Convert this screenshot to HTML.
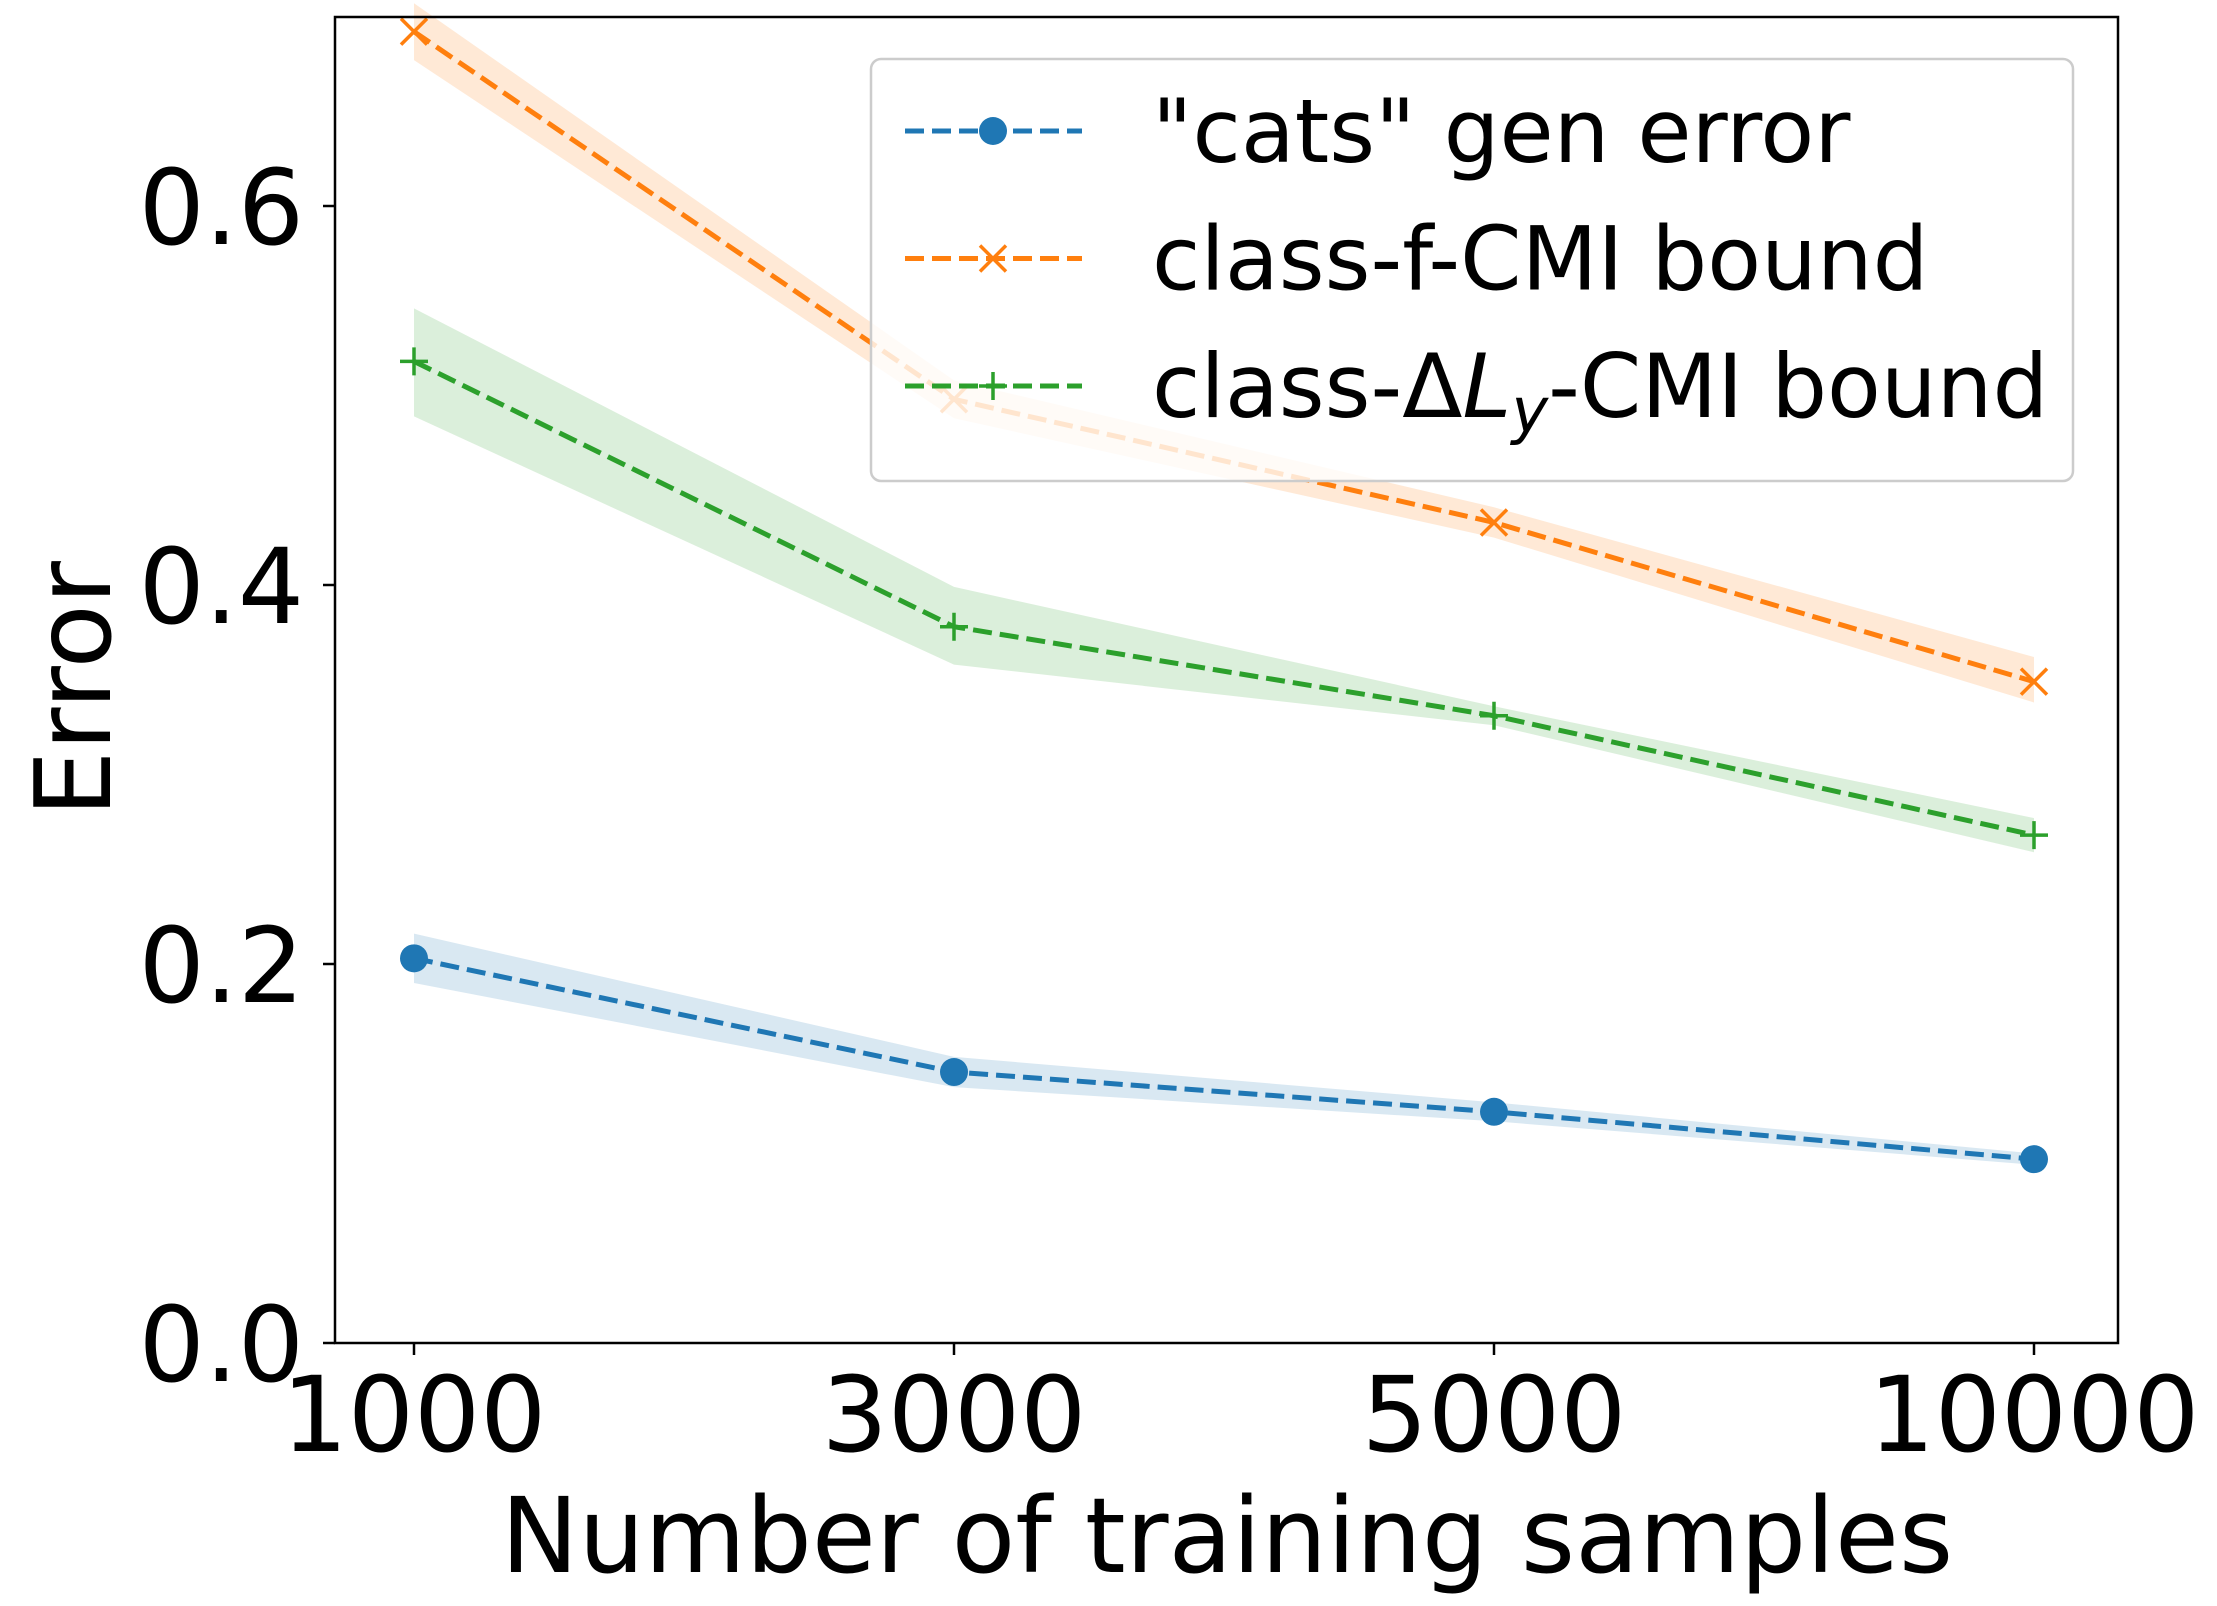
<!DOCTYPE html>
<html><head><meta charset="utf-8"><style>
html,body{margin:0;padding:0;background:#fff;}
svg text{font-family:"DejaVu Sans","Liberation Sans",sans-serif;}
</style></head><body>
<svg id="chart" width="2217" height="1601" viewBox="0 0 2217 1601" xmlns="http://www.w3.org/2000/svg">
<rect width="2217" height="1601" fill="#fff"/>
<g id="bands"></g><g id="lines"></g>
<rect x="335" y="17" width="1783" height="1326" fill="none" stroke="#000" stroke-width="2.5"/>
<g id="ticks"></g>
<text transform="translate(110,689) rotate(-90)" text-anchor="middle" font-size="105">Error</text>
<text x="1227" y="1572" text-anchor="middle" font-size="104">Number of training samples</text>
<g id="legend">
<rect x="871" y="59" width="1202" height="422" rx="10" fill="#fff" fill-opacity="0.8" stroke="#ccc" stroke-width="2.5"/>
</g>
</svg>
<script>
const categories=["1000","3000","5000","10000"];
const yTicks=[0.0,0.2,0.4,0.6];
const genErr=[0.203,0.143,0.122,0.097];
const genLo=[0.190,0.135,0.117,0.094];
const genHi=[0.216,0.151,0.127,0.100];
const fcmi=[0.692,0.498,0.433,0.349];
const fcmiLo=[0.677,0.488,0.425,0.338];
const fcmiHi=[0.707,0.508,0.441,0.362];
const dcmi=[0.518,0.378,0.331,0.268];
const dcmiLo=[0.489,0.358,0.326,0.259];
const dcmiHi=[0.546,0.399,0.336,0.277];
const legendLabels=['"cats" gen error','class-f-CMI bound','class-ΔL-CMI bound'];
const NS="http://www.w3.org/2000/svg";
const xPos=i=>414+i*540;
const yPos=v=>1343-v*1895;
function mk(t,a,p){const e=document.createElementNS(NS,t);for(const k in a)e.setAttribute(k,a[k]);p.appendChild(e);return e;}
const bands=document.getElementById('bands'),lines=document.getElementById('lines'),ticks=document.getElementById('ticks');
const series=[
 {v:genErr,lo:genLo,hi:genHi,c:'#1f77b4',m:'dot',n:'gen-error'},
 {v:fcmi,lo:fcmiLo,hi:fcmiHi,c:'#ff7f0e',m:'x',n:'f-cmi-bound'},
 {v:dcmi,lo:dcmiLo,hi:dcmiHi,c:'#2ca02c',m:'plus',n:'delta-cmi-bound'}];
function marker(m,x,y,c,p,name){
 let e;
 if(m==='dot'){e=mk('circle',{cx:x,cy:y,r:14,fill:c},p);}
 else if(m==='x'){e=mk('path',{d:`M${x-13} ${y-13}L${x+13} ${y+13}M${x-13} ${y+13}L${x+13} ${y-13}`,stroke:c,'stroke-width':3.5,fill:'none'},p);}
 else {e=mk('path',{d:`M${x-14} ${y}L${x+14} ${y}M${x} ${y-14}L${x} ${y+14}`,stroke:c,'stroke-width':3.5,fill:'none'},p);}
 
 
}
series.forEach(s=>{
 let d='';s.hi.forEach((v,i)=>d+=(i?'L':'M')+xPos(i)+' '+yPos(v));
 for(let i=s.lo.length-1;i>=0;i--)d+='L'+xPos(i)+' '+yPos(s.lo[i]);
 const b=mk('path',{d:d+'Z',fill:s.c,'fill-opacity':0.17},bands);
 
 
 const l=mk('polyline',{points:s.v.map((v,i)=>xPos(i)+','+yPos(v)).join(' '),fill:'none',stroke:s.c,'stroke-width':5,'stroke-dasharray':'19 8'},lines);
 
 
 s.v.forEach((v,i)=>marker(s.m,xPos(i),yPos(v),s.c,lines,s.n+'-point'));
});
yTicks.forEach(t=>{
 const y=yPos(t);
 mk('line',{x1:335,x2:323,y1:y,y2:y,stroke:'#000','stroke-width':2.5},ticks);
 const tx=mk('text',{x:304,y:y+38,'text-anchor':'end','font-size':104},ticks);tx.textContent=t.toFixed(1);
 
 
});
categories.forEach((c,i)=>{
 const x=xPos(i);
 mk('line',{x1:x,x2:x,y1:1343,y2:1355,stroke:'#000','stroke-width':2.5},ticks);
 const tx=mk('text',{x:x,y:1451,'text-anchor':'middle','font-size':104},ticks);tx.textContent=c;
 
 
});
const lg=document.getElementById('legend');
series.forEach((s,i)=>{
 const y=131+i*127.5;
 const l=mk('line',{x1:905,x2:1082,y1:y,y2:y,stroke:s.c,'stroke-width':5,'stroke-dasharray':'19 8'},lg);
 
 
 marker(s.m,993,y,s.c,lg,'legend-marker');
 const t=mk('text',{x:1152,y:y+31,'font-size':88},lg);
 
 
 if(i<2)t.textContent=legendLabels[i];
 else{t.textContent='class-Δ';const a=mk('tspan',{'font-style':'italic'},t);a.textContent='L';const b=mk('tspan',{'font-style':'italic','font-size':62,dy:15},t);b.textContent='y';const c2=mk('tspan',{dy:-15},t);c2.textContent='-CMI bound';}
});
</script>
</body></html>
